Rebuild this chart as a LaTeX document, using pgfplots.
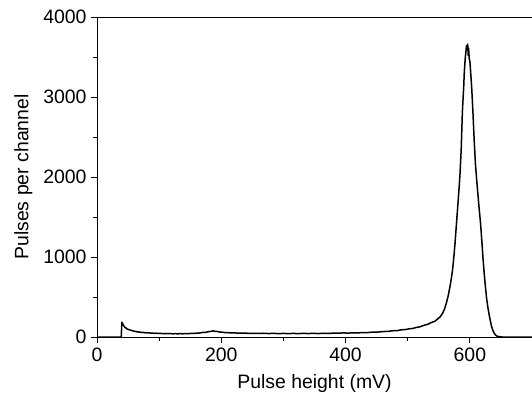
\documentclass[border=0pt]{standalone}
\usepackage{fontspec}
\setmainfont{Liberation Sans}
\usepackage{pgfplots}
\pgfplotsset{compat=1.18}
\begin{document}
\begin{tikzpicture}
\begin{axis}[
  name=ax,
  scale only axis,
  width=435bp, height=320bp,
  xmin=0, xmax=700, ymin=0, ymax=4000,
  axis x line*=bottom, axis y line*=left,
  axis line style={-, line width=0.8bp},
  xtick={0,200,400,600}, ytick={0,1000,2000,3000,4000},
  minor x tick num=1, minor y tick num=1,
  tick align=outside,
  major tick length=6bp, minor tick length=4bp,
  every tick/.style={black, line width=0.8bp},
  scaled ticks=false,
  /pgf/number format/assume math mode=true,
  /pgf/number format/set thousands separator={},
  tick label style={font=\fontsize{19.5}{23}\selectfont},
  label style={font=\fontsize{19.5}{23}\selectfont},
  xticklabel style={yshift=-1bp},
  yticklabel style={xshift=-1bp},
  xlabel={Pulse height (mV)},
  ylabel={Pulses per channel},
  xlabel style={yshift=-6bp},
  ylabel style={yshift=4bp},
  clip=false,
]
\addplot[black, line width=1.5bp, line join=round] coordinates {
(0,0) (39,0) (40,185) (41,168) (42,158) (43,140) (44,131) (45,120) (46,117)
(48,102) (50,97) (52,89) (54,87) (56,80) (58,77) (60,71) (62,72) (64,65)
(66,66) (68,61) (70,60) (72,56) (74,58) (76,53) (78,55) (80,51) (83,53)
(86,49) (89,50) (92,46) (95,48) (98,44) (102,46) (106,42) (110,44) (114,41)
(118,43) (122,40) (126,42) (130,39) (134,42) (138,40) (142,43) (146,41)
(150,44) (155,44) (160,48) (165,50) (170,57) (175,59) (180,67) (184,72)
(187,77) (190,71) (193,71) (196,63) (200,62) (205,56) (210,56) (215,51)
(220,52) (228,48) (236,49) (244,46) (252,47) (260,44) (268,47) (276,43)
(284,46) (292,42) (300,45) (308,42) (316,45) (324,42) (332,46) (340,43)
(348,46) (356,43) (364,47) (372,45) (380,48) (388,47) (396,51) (404,49)
(412,53) (420,52) (428,56) (436,56) (444,61) (452,62) (460,68) (468,70)
(476,78) (484,81) (490,90) (496,93) (502,102) (508,107) (514,120) (520,128)
(526,146) (532,158) (538,181) (544,198) (548,225) (552,250) (556,295)
(559,345) (562,420) (565,510) (568,630) (570,720) (572,830)
(574,980) (576,1160) (578,1370) (580,1580) (582,1790) (584,2020) (586,2330)
(587,2580) (588,2820) (589,2970) (590,3110) (591,3300) (592.5,3480)
(593.5,3560) (594.5,3640) (595.5,3600) (596.5,3660) (597.3,3520) (598,3610)
(599,3480) (600,3450) (601,3340) (602,3230) (603,3110) (605,2800)
(607,2450) (609,2160) (611,1960) (613,1780) (615,1600) (617,1440)
(619,1230) (621,1000) (623,800) (625,630) (627,480) (629,370) (631,280)
(633,200) (635,130) (637,85) (639,50) (641,28) (643,14) (646,5)
(652,0) (700,0)
};
\draw[black, line width=0.8bp] (rel axis cs:0,1) -- (rel axis cs:1,1);
\end{axis}
\pgfresetboundingbox
\path ([xshift=-97bp,yshift=-58bp]ax.south west) rectangle ([yshift=17bp]ax.north east);
\end{tikzpicture}
\end{document}
